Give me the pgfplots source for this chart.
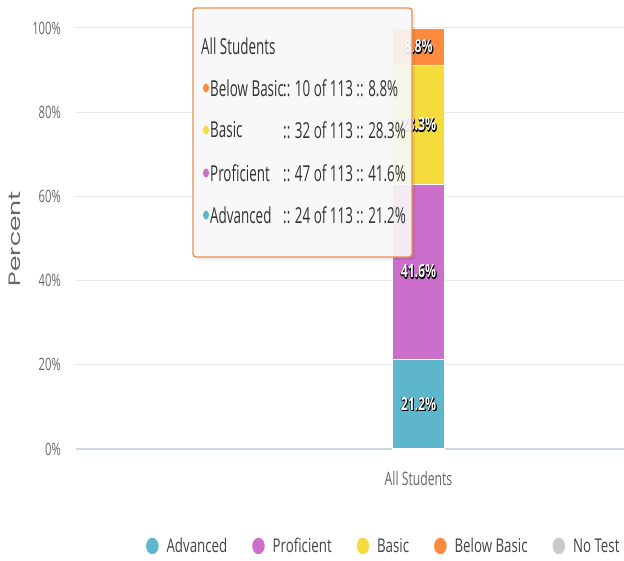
\documentclass[border=0pt]{standalone}
\usepackage{pgfplots}
\pgfplotsset{compat=1.18}
\usepackage{graphicx}
\usepackage{fontspec}
\setmainfont{Open Sans}
\newfontfamily\tickf[FakeStretch=0.66]{Open Sans}
\newfontfamily\ttf[FakeStretch=0.61]{Open Sans}
\newfontfamily\legf[FakeStretch=0.70]{Open Sans}
\newfontfamily\barf[FakeStretch=0.68]{Open Sans}
\newfontfamily\pop{Poppins}
\usetikzlibrary{calc}
\definecolor{cAdv}{HTML}{5DB6CC}
\definecolor{cPro}{HTML}{CC6FCB}
\definecolor{cBas}{HTML}{F6DB3D}
\definecolor{cBel}{HTML}{FD8A3F}
\definecolor{cNo}{HTML}{C9C9C9}
\definecolor{txt}{HTML}{666666}
\definecolor{ltxt}{HTML}{444444}
\definecolor{grd}{HTML}{E8E8E8}
\definecolor{base}{HTML}{CCD6EB}
\definecolor{ttb}{HTML}{F08C4A}
\protected\def\shl#1{\makebox[0pt][l]{\color{black}\kern1.1pt\raisebox{-1.1pt}{#1}}\makebox[0pt][l]{\color{black}\kern0.5pt\raisebox{-1.5pt}{#1}}\makebox[0pt][l]{\color{black}\kern-0.4pt\raisebox{-0.4pt}{#1}}{\color{white}#1}}
\begin{document}
\begin{tikzpicture}
\begin{axis}[name=ax, scale only axis, width=548bp, height=421bp,
  ymin=0, ymax=100, xmin=-1, xmax=0.6,
  ybar stacked, bar width=52bp,
  /pgf/number format/assume math mode=true,
  axis line style={draw=none}, major tick length=0pt,
  ymajorgrids, grid style={color=grd, line width=1bp},
  ytick={0,20,...,100}, yticklabel={\pgfmathprintnumber{\tick}\%},
  yticklabel style={font=\tickf\fontsize{17bp}{19bp}\selectfont, text=txt, inner sep=0pt, anchor=east, xshift=-15bp},
  xtick={0}, xticklabels={All Students},
  xticklabel style={font=\tickf\fontsize{18.5bp}{21bp}\selectfont, text=txt, inner sep=0pt, anchor=north, yshift=-22bp},
  legend columns=5,
  legend style={draw=none, fill=none, inner sep=0pt, outer sep=0pt, at={(0.128,-0.2304)}, anchor=west,
    font=\legf\fontsize{19bp}{21bp}\selectfont, text=ltxt,
    /tikz/every odd column/.append style={column sep=6bp},
    /tikz/every even column/.append style={column sep=23bp}},
]
\addlegendimage{legend image code/.code={\fill[cAdv] (6bp,0) ellipse (6bp and 8bp);}}
\addlegendimage{legend image code/.code={\fill[cPro] (6bp,0) ellipse (6bp and 8bp);}}
\addlegendimage{legend image code/.code={\fill[cBas] (6bp,0) ellipse (6bp and 8bp);}}
\addlegendimage{legend image code/.code={\fill[cBel] (6bp,0) ellipse (6bp and 8bp);}}
\addlegendimage{legend image code/.code={\fill[cNo] (6bp,0) ellipse (6bp and 8bp);}}
\legend{Advanced, Proficient, Basic, Below Basic, No Test}
\addplot[fill=cAdv, draw=white, line width=1.2bp, nodes near coords, point meta=explicit symbolic,
  every node near coord/.append style={anchor=center, font=\barf\bfseries\fontsize{18bp}{20bp}\selectfont}]
  coordinates {(0,21.2) [\shl{21.2\%}]};
\addplot[fill=cPro, draw=white, line width=1.2bp, nodes near coords, point meta=explicit symbolic,
  every node near coord/.append style={anchor=center, font=\barf\bfseries\fontsize{18bp}{20bp}\selectfont}]
  coordinates {(0,41.6) [\shl{41.6\%}]};
\addplot[fill=cBas, draw=white, line width=1.2bp, nodes near coords, point meta=explicit symbolic,
  every node near coord/.append style={anchor=center, font=\barf\bfseries\fontsize{18bp}{20bp}\selectfont}]
  coordinates {(0,28.3) [\shl{28.3\%}]};
\addplot[fill=cBel, draw=white, line width=1.2bp, nodes near coords, point meta=explicit symbolic,
  every node near coord/.append style={anchor=center, font=\barf\bfseries\fontsize{18bp}{20bp}\selectfont}]
  coordinates {(0,8.8) [\shl{8.8\%}]};
\draw[base, line width=1.2bp] (rel axis cs:0,0) -- (rel axis cs:1,0);
\end{axis}
\node[rotate=90, text=txt, inner sep=0pt, font=\pop\fontsize{25bp}{27bp}\selectfont] at ($(ax.west)+(-61bp,0)$) {\scalebox{1}[0.66]{Percent}};
% tooltip
\begin{scope}[shift={(ax.north west)}]
\fill[black, opacity=0.07, rounded corners=3bp] (119bp,17bp) rectangle (339bp,-232bp);
\draw[ttb, line width=1.4bp, fill=white!98!black, fill opacity=0.9, rounded corners=3bp] (117bp,20bp) rectangle (336bp,-229bp);
\begin{scope}[every node/.style={anchor=west, inner sep=0pt, text=black!80, font=\ttf\fontsize{22bp}{24bp}\selectfont}]
\node at (125bp,-18bp) {All Students};
\fill[cBel] (130bp,-60bp) ellipse (3bp and 4.5bp);
\fill[cBas] (130bp,-102bp) ellipse (3bp and 4.5bp);
\fill[cPro] (130bp,-145bp) ellipse (3bp and 4.5bp);
\fill[cAdv] (130bp,-187bp) ellipse (3bp and 4.5bp);
\node at (134bp,-60bp) {Below Basic};
\node at (134bp,-102bp) {Basic};
\node at (134bp,-145bp) {Proficient};
\node at (134bp,-187bp) {Advanced};
\node at (207bp,-60bp) {:: 10 of 113 :: 8.8\%};
\node at (207bp,-102bp) {:: 32 of 113 :: 28.3\%};
\node at (207bp,-145bp) {:: 47 of 113 :: 41.6\%};
\node at (207bp,-187bp) {:: 24 of 113 :: 21.2\%};
\end{scope}
\end{scope}
\pgfresetboundingbox
\useasboundingbox ($(ax.south west)+(-76bp,-112bp)$) rectangle ($(ax.north east)+(0,28bp)$);
\end{tikzpicture}
\end{document}
